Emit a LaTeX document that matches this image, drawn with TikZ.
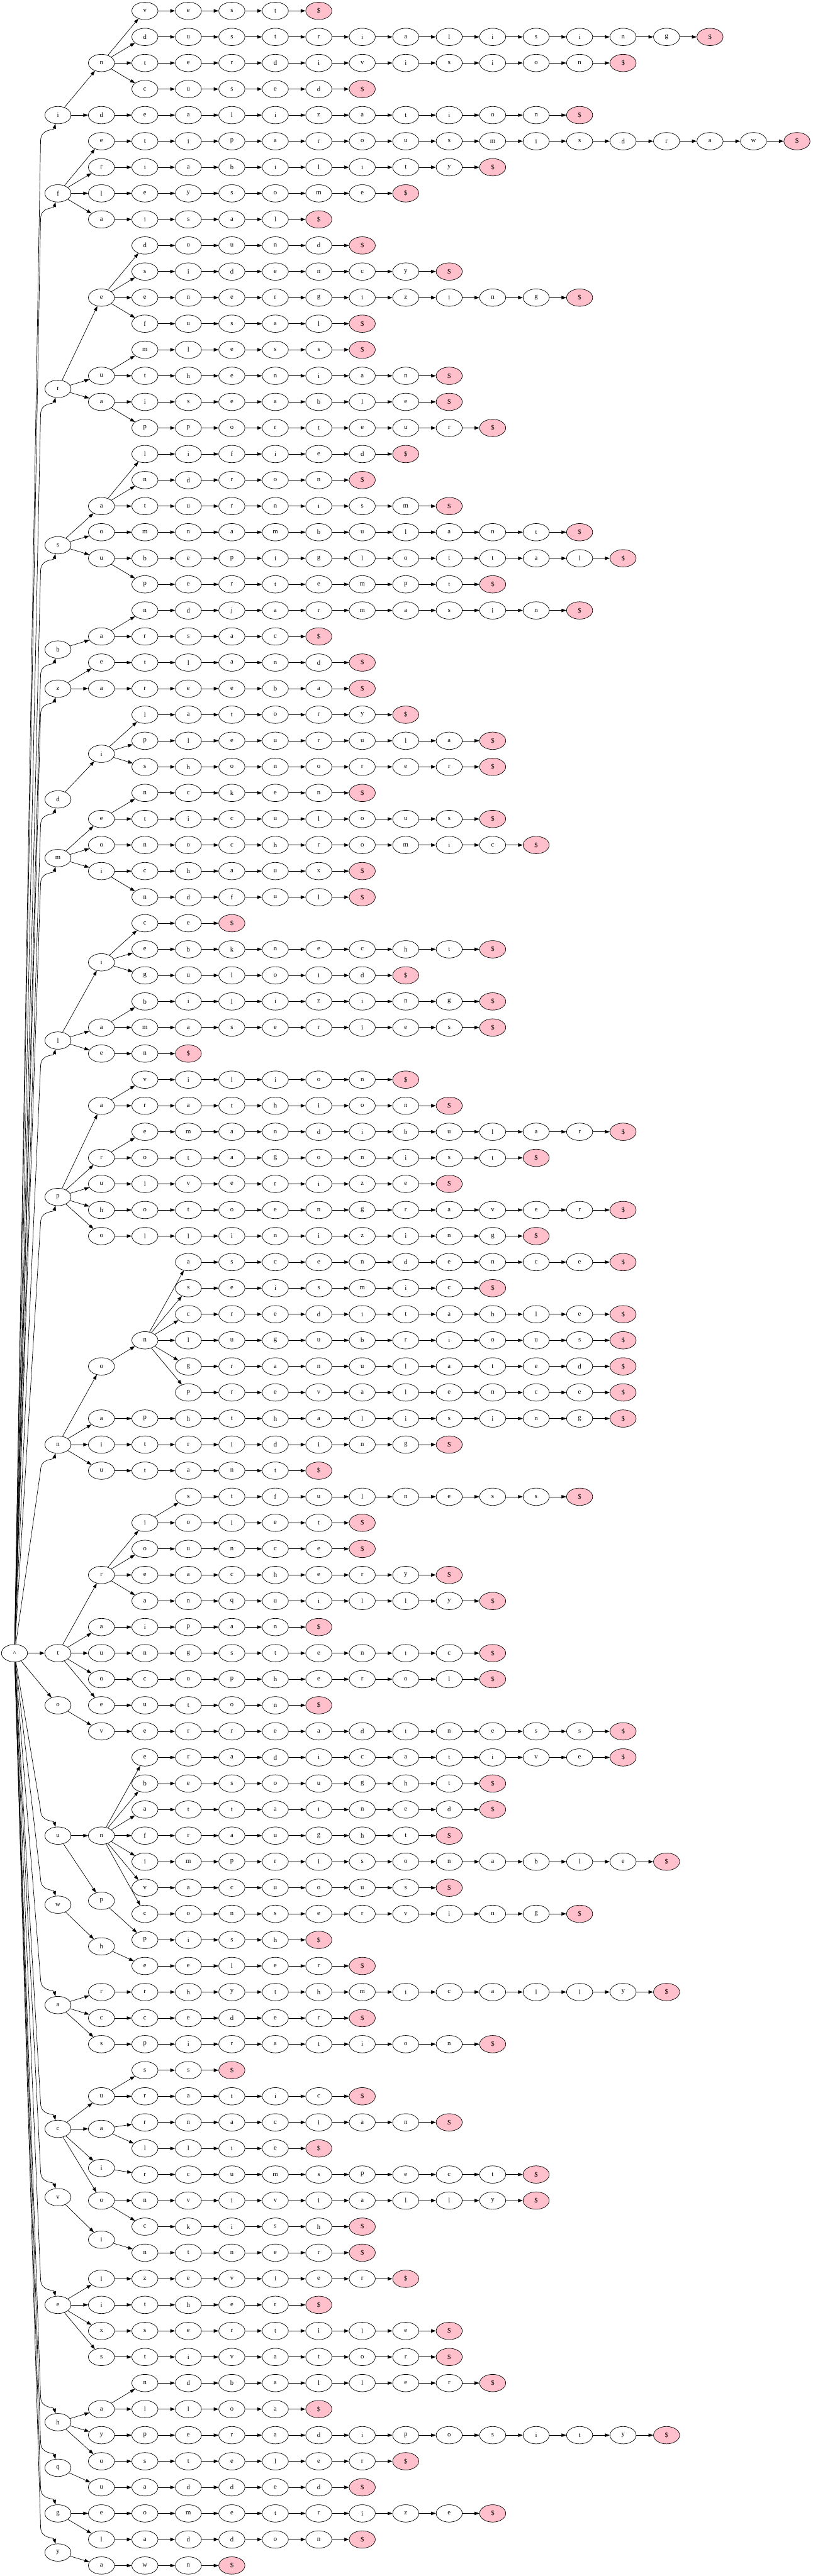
\documentclass[tikz,border=0pt]{standalone}
\usepackage{fontspec}
\setmainfont{Liberation Serif}
\usetikzlibrary{shapes.geometric,arrows.meta}
\definecolor{EndPink}{HTML}{FFC0CB}

\tikzset{
  letter/.style={draw,ellipse,line width=0.9pt,minimum width=54pt,minimum height=36pt,inner sep=0pt,font=\fontsize{14}{16}\selectfont},
  endmark/.style={letter,fill=EndPink},
  edge/.style={line width=0.9pt,-{Triangle[length=10pt,width=7pt]}}
}

\newcommand{\wordrow}[4]{%
  \foreach \ch [count=\k from #3] in {#4}{%
    \node[letter] (w#2c\k) at (\k,#2) {\ch};
    \ifnum\k=#3
      \draw[edge] (#1) -- (w#2c\k);
    \else
      \pgfmathtruncatemacro{\pk}{\k-1}
      \draw[edge] (w#2c\pk) -- (w#2c\k);
    \fi
    \xdef\lastcol{\k}%
  }%
  \pgfmathtruncatemacro{\endcol}{\lastcol+1}%
  \node[endmark] (w#2c\endcol) at (\endcol,#2) {\$};
  \draw[edge] (w#2c\lastcol) -- (w#2c\endcol);
}

\begin{document}
\begin{tikzpicture}[x=90pt,y=-54pt,line join=round]
  \useasboundingbox (-30pt,-31.5pt) rectangle (1652.25pt,-5367.75pt);
  \node[letter] (root) at (0,64) {\textasciicircum};

  \node[letter] (i1) at (1,5) {i};
  \node[letter] (i1n) at (2,3) {n};
  \draw[edge] (i1) -- (i1n);
  \wordrow{i1n}{1}{3}{v,e,s,t}
  \wordrow{i1n}{2}{3}{d,u,s,t,r,i,a,l,i,s,i,n,g}
  \wordrow{i1n}{3}{3}{t,e,r,d,i,v,i,s,i,o,n}
  \wordrow{i1n}{4}{3}{c,u,s,e,d}
  \wordrow{i1}{5}{2}{d,e,a,l,i,z,a,t,i,o,n}

  \node[letter] (f1) at (1,8) {f};
  \wordrow{f1}{6}{2}{e,t,i,p,a,r,o,u,s,m,i,s,d,r,a,w}
  \wordrow{f1}{7}{2}{r,i,a,b,i,l,i,t,y}
  \wordrow{f1}{8}{2}{l,e,y,s,o,m,e}
  \wordrow{f1}{9}{2}{a,i,s,a,l}

  \node[letter] (r1) at (1,15.5) {r};
  \node[letter] (r1e) at (2,12) {e};
  \node[letter] (r1u) at (2,15) {u};
  \node[letter] (r1a) at (2,16) {a};
  \foreach \c in {r1e,r1u,r1a}{\draw[edge] (r1) -- (\c);}
  \wordrow{r1e}{10}{3}{d,o,u,n,d}
  \wordrow{r1e}{11}{3}{s,i,d,e,n,c,y}
  \wordrow{r1e}{12}{3}{e,n,e,r,g,i,z,i,n,g}
  \wordrow{r1e}{13}{3}{f,u,s,a,l}
  \wordrow{r1u}{14}{3}{m,l,e,s,s}
  \wordrow{r1u}{15}{3}{t,h,e,n,i,a,n}
  \wordrow{r1a}{16}{3}{i,s,e,a,b,l,e}
  \wordrow{r1a}{17}{3}{p,p,o,r,t,e,u,r}

  \node[letter] (s1) at (1,21.5) {s};
  \node[letter] (s1a) at (2,20) {a};
  \node[letter] (s1u) at (2,22) {u};
  \foreach \c in {s1a,s1u}{\draw[edge] (s1) -- (\c);}
  \wordrow{s1a}{18}{3}{l,i,f,i,e,d}
  \wordrow{s1a}{19}{3}{n,d,r,o,n}
  \wordrow{s1a}{20}{3}{t,u,r,n,i,s,m}
  \wordrow{s1}{21}{2}{o,m,n,a,m,b,u,l,a,n,t}
  \wordrow{s1u}{22}{3}{b,e,p,i,g,l,o,t,t,a,l}
  \wordrow{s1u}{23}{3}{p,e,r,t,e,m,p,t}

  \node[letter] (b1) at (1,25.5) {b};
  \node[letter] (b1a) at (2,25) {a};
  \draw[edge] (b1) -- (b1a);
  \wordrow{b1a}{24}{3}{n,d,j,a,r,m,a,s,i,n}
  \wordrow{b1a}{25}{3}{r,s,a,c}

  \node[letter] (z1) at (1,27) {z};
  \wordrow{z1}{26}{2}{e,t,l,a,n,d}
  \wordrow{z1}{27}{2}{a,r,e,e,b,a}

  \node[letter] (d1) at (1,31.25) {d};
  \node[letter] (d1i) at (2,29.5) {i};
  \draw[edge] (d1) -- (d1i);
  \wordrow{d1i}{28}{3}{l,a,t,o,r,y}
  \wordrow{d1i}{29}{3}{p,l,e,u,r,u,l,a}
  \wordrow{d1i}{30}{3}{s,h,o,n,o,r,e,r}

  \node[letter] (m1) at (1,33.5) {m};
  \node[letter] (m1e) at (2,32) {e};
  \node[letter] (m1i) at (2,34) {i};
  \foreach \c in {m1e,m1i}{\draw[edge] (m1) -- (\c);}
  \wordrow{m1e}{31}{3}{n,c,k,e,n}
  \wordrow{m1e}{32}{3}{t,i,c,u,l,o,u,s}
  \wordrow{m1}{33}{2}{o,n,o,c,h,r,o,m,i,c}
  \wordrow{m1i}{34}{3}{c,h,a,u,x}
  \wordrow{m1i}{35}{3}{n,d,f,u,l}

  \node[letter] (l1) at (1,40.5) {l};
  \node[letter] (l1i) at (2,37.5) {i};
  \node[letter] (l1a) at (2,40) {a};
  \foreach \c in {l1i,l1a}{\draw[edge] (l1) -- (\c);}
  \wordrow{l1i}{36}{3}{c,e}
  \wordrow{l1i}{37}{3}{e,b,k,n,e,c,h,t}
  \wordrow{l1i}{38}{3}{g,u,l,o,i,d}
  \wordrow{l1a}{39}{3}{b,i,l,i,z,i,n,g}
  \wordrow{l1a}{40}{3}{m,a,s,e,r,i,e,s}
  \wordrow{l1}{41}{2}{e,n}

  \node[letter] (p1) at (1,46.5) {p};
  \node[letter] (p1a) at (2,43) {a};
  \node[letter] (p1r) at (2,45) {r};
  \foreach \c in {p1a,p1r}{\draw[edge] (p1) -- (\c);}
  \wordrow{p1a}{42}{3}{v,i,l,i,o,n}
  \wordrow{p1a}{43}{3}{r,a,t,h,i,o,n}
  \wordrow{p1r}{44}{3}{e,m,a,n,d,i,b,u,l,a,r}
  \wordrow{p1r}{45}{3}{o,t,a,g,o,n,i,s,t}
  \wordrow{p1}{46}{2}{u,l,v,e,r,i,z,e}
  \wordrow{p1}{47}{2}{h,o,t,o,e,n,g,r,a,v,e,r}
  \wordrow{p1}{48}{2}{o,l,l,i,n,i,z,i,n,g}

  \node[letter] (n1) at (1,56) {n};
  \node[letter] (n1o) at (2,53) {o};
  \node[letter] (n1on) at (3,52) {n};
  \draw[edge] (n1) -- (n1o);
  \draw[edge] (n1o) -- (n1on);
  \wordrow{n1on}{49}{4}{a,s,c,e,n,d,e,n,c,e}
  \wordrow{n1on}{50}{4}{s,e,i,s,m,i,c}
  \wordrow{n1on}{51}{4}{c,r,e,d,i,t,a,b,l,e}
  \wordrow{n1on}{52}{4}{l,u,g,u,b,r,i,o,u,s}
  \wordrow{n1on}{53}{4}{g,r,a,n,u,l,a,t,e,d}
  \wordrow{n1on}{54}{4}{p,r,e,v,a,l,e,n,c,e}
  \wordrow{n1}{55}{2}{a,p,h,t,h,a,l,i,s,i,n,g}
  \wordrow{n1}{56}{2}{i,t,r,i,d,i,n,g}
  \wordrow{n1}{57}{2}{u,t,a,n,t}

  \node[letter] (t1) at (1,64) {t};
  \node[letter] (t1r) at (2,61) {r};
  \node[letter] (t1ri) at (3,59) {i};
  \draw[edge] (t1) -- (t1r);
  \draw[edge] (t1r) -- (t1ri);
  \wordrow{t1ri}{58}{4}{s,t,f,u,l,n,e,s,s}
  \wordrow{t1ri}{59}{4}{o,l,e,t}
  \wordrow{t1r}{60}{3}{o,u,n,c,e}
  \wordrow{t1r}{61}{3}{e,a,c,h,e,r,y}
  \wordrow{t1r}{62}{3}{a,n,q,u,i,l,l,y}
  \wordrow{t1}{63}{2}{a,i,p,a,n}
  \wordrow{t1}{64}{2}{u,n,g,s,t,e,n,i,c}
  \wordrow{t1}{65}{2}{o,c,o,p,h,e,r,o,l}
  \wordrow{t1}{66}{2}{e,u,t,o,n}

  \node[letter] (o1) at (1,66) {o};
  \wordrow{o1}{67}{2}{v,e,r,r,e,a,d,i,n,e,s,s}

  \node[letter] (u1) at (1,71) {u};
  \node[letter] (u1n) at (2,71) {n};
  \node[letter] (u1p) at (2,73.5) {p};
  \foreach \c in {u1n,u1p}{\draw[edge] (u1) -- (\c);}
  \wordrow{u1n}{68}{3}{e,r,a,d,i,c,a,t,i,v,e}
  \wordrow{u1n}{69}{3}{b,e,s,o,u,g,h,t}
  \wordrow{u1n}{70}{3}{a,t,t,a,i,n,e,d}
  \wordrow{u1n}{71}{3}{f,r,a,u,g,h,t}
  \wordrow{u1n}{72}{3}{i,m,p,r,i,s,o,n,a,b,l,e}
  \wordrow{u1n}{73}{3}{v,a,c,u,o,u,s}
  \wordrow{u1n}{74}{3}{c,o,n,s,e,r,v,i,n,g}
  \wordrow{u1p}{75}{3}{p,i,s,h}

  \node[letter] (w1) at (1,73.65) {w};
  \node[letter] (w1h) at (2,75.25) {h};
  \draw[edge] (w1) -- (w1h);
  \wordrow{w1h}{76}{3}{e,e,l,e,r}

  \node[letter] (a1) at (1,77.5) {a};
  \wordrow{a1}{77}{2}{r,r,h,y,t,h,m,i,c,a,l,l,y}
  \wordrow{a1}{78}{2}{c,c,e,d,e,r}
  \wordrow{a1}{79}{2}{s,p,i,r,a,t,i,o,n}

  \node[letter] (c1) at (1,82.25) {c};
  \node[letter] (c1u) at (2,81) {u};
  \node[letter] (c1a) at (2,82.25) {a};
  \node[letter] (c1i) at (2,83.75) {i};
  \node[letter] (c1o) at (2,85) {o};
  \foreach \c in {c1u,c1a,c1i,c1o}{\draw[edge] (c1) -- (\c);}
  \wordrow{c1u}{80}{3}{s,s}
  \wordrow{c1u}{81}{3}{r,a,t,i,c}
  \wordrow{c1a}{82}{3}{r,n,a,c,i,a,n}
  \wordrow{c1a}{83}{3}{l,l,i,e}
  \wordrow{c1i}{84}{3}{r,c,u,m,s,p,e,c,t}
  \wordrow{c1o}{85}{3}{n,v,i,v,i,a,l,l,y}
  \wordrow{c1o}{86}{3}{c,k,i,s,h}

  \node[letter] (v1) at (1,84.87) {v};
  \node[letter] (v1i) at (2,86.5) {i};
  \draw[edge] (v1) -- (v1i);
  \wordrow{v1i}{87}{3}{n,t,n,e,r}

  \node[letter] (e1) at (1,89) {e};
  \wordrow{e1}{88}{2}{l,z,e,v,i,e,r}
  \wordrow{e1}{89}{2}{i,t,h,e,r}
  \wordrow{e1}{90}{2}{x,s,e,r,t,i,l,e}
  \wordrow{e1}{91}{2}{s,t,i,v,a,t,o,r}

  \node[letter] (h1) at (1,93.5) {h};
  \node[letter] (h1a) at (2,93) {a};
  \draw[edge] (h1) -- (h1a);
  \wordrow{h1a}{92}{3}{n,d,b,a,l,l,e,r}
  \wordrow{h1a}{93}{3}{l,l,o,a}
  \wordrow{h1}{94}{2}{y,p,e,r,a,d,i,p,o,s,i,t,y}
  \wordrow{h1}{95}{2}{o,s,t,e,l,e,r}

  \node[letter] (q1) at (1,95.25) {q};
  \wordrow{q1}{96}{2}{u,a,d,d,e,d}

  \node[letter] (g1) at (1,97) {g};
  \wordrow{g1}{97}{2}{e,o,m,e,t,r,i,z,e}
  \wordrow{g1}{98}{2}{l,a,d,d,o,n}

  \node[letter] (y1) at (1,98.5) {y};
  \wordrow{y1}{99}{2}{a,w,n}

  \foreach \c/\r in {i1/5,f1/8,r1/15.5,s1/21.5,b1/25.5,z1/27,d1/31.25,m1/33.5,l1/40.5,p1/46.5,n1/56}
    {\draw[edge] (root) -- (0.6,\r+1) .. controls (0.6,\r+0.5) and (0.9,\r+0.6) .. (\c);}
  \foreach \c/\r in {u1/71,w1/73.65,a1/77.5,c1/82.25,v1/84.87,e1/89,h1/93.5,q1/95.25,g1/97,y1/98.5}
    {\draw[edge] (root) -- (0.6,\r-1) .. controls (0.6,\r-0.5) and (0.9,\r-0.6) .. (\c);}
  \draw[edge] (root) -- (t1);
  \draw[edge] (root) -- (o1);
\end{tikzpicture}
\end{document}
